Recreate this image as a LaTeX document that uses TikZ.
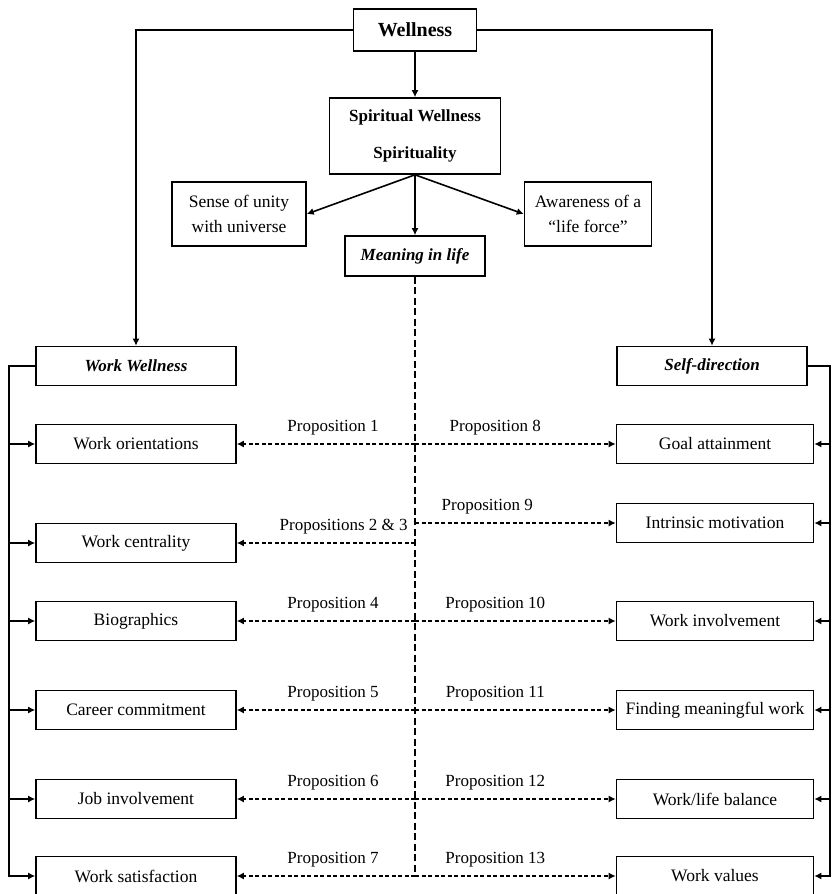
\documentclass[tikz,border=0pt]{standalone}
\usepackage{fontspec}
\setmainfont{Liberation Serif}
\usetikzlibrary{arrows.meta,positioning,calc}

\begin{document}
\begin{tikzpicture}[
    x=1pt,y=-1pt,
    every node/.style={draw,line width=1.6pt,inner sep=2pt,font=\fontsize{17.5}{25}\selectfont},
    leftbox/.style={minimum width=200pt,minimum height=39pt},
    rightbox/.style={minimum width=197pt,minimum height=39pt},
    prop/.style={draw=none,font=\fontsize{17}{20}\selectfont,above=6pt},
    solidarr/.style={-{Latex[length=7pt,width=7pt]},line width=1.6pt},
    dasharr/.style={-{Latex[length=7pt,width=7pt]},line width=1.7pt,dash pattern=on 4pt off 2.5pt},
    spine/.style={line width=1.4pt,dash pattern=on 7pt off 3.5pt}
]
\useasboundingbox (0,0) rectangle (831,894);

% Top of the hierarchy
\node[minimum width=123pt,minimum height=42pt,font=\fontsize{20}{24}\selectfont\bfseries] (wellness) at (415,30) {Wellness};
\node[minimum width=171pt,minimum height=76pt,align=center,font=\fontsize{17}{20}\selectfont\bfseries] (spirit) at (415,136) {Spiritual Wellness\\[17pt]Spirituality};

% Spirituality facets
\node[minimum width=134pt,minimum height=64pt,align=center] (unity) at (239,214) {Sense of unity\\with universe};
\node[minimum width=127pt,minimum height=64pt,align=center] (aware) at (588,214) {Awareness of a\\``life force''};
\node[minimum width=140pt,minimum height=40pt,font=\fontsize{17}{20}\selectfont\bfseries\itshape] (meaning) at (415,256) {Meaning in life};

% Work wellness side
\node[leftbox,font=\fontsize{17}{20}\selectfont\bfseries\itshape] (workw) at (136,366) {Work Wellness};
\node[leftbox] (worient) at (136,444) {Work orientations};
\node[leftbox] (wcentral) at (136,543) {Work centrality};
\node[leftbox] (biog) at (136,621) {Biographics};
\node[leftbox] (career) at (136,710) {Career commitment};
\node[leftbox] (jobinv) at (136,799) {Job involvement};
\node[leftbox] (wsat) at (136,876) {Work satisfaction};

% Self-direction side
\node[minimum width=190pt,minimum height=39pt,font=\fontsize{17}{20}\selectfont\bfseries\itshape] (selfd) at (712,366) {Self-direction};
\node[rightbox] (goal) at (715,444) {Goal attainment};
\node[rightbox] (intrinsic) at (715,523) {Intrinsic motivation};
\node[rightbox] (workinv) at (715,621) {Work involvement};
\node[rightbox] (meaningful) at (715,710) {Finding meaningful work};
\node[rightbox] (balance) at (715,799) {Work/life balance};
\node[rightbox] (values) at (715,876) {Work values};

% Connections from the top
\draw[solidarr] (wellness.west) -| (workw.north);
\draw[solidarr] (wellness.east) -| (selfd.north);
\draw[solidarr] (wellness) -- (spirit);
\draw[solidarr] (spirit.south) -- (unity.east);
\draw[solidarr] (spirit.south) -- (meaning);
\draw[solidarr] (spirit.south) -- (aware.west);

% Left bus
\draw[solidarr] (workw.west) -- ++(-26,0) |- (worient.west);
\draw[solidarr] (workw.west) -- ++(-26,0) |- (wcentral.west);
\draw[solidarr] (workw.west) -- ++(-26,0) |- (biog.west);
\draw[solidarr] (workw.west) -- ++(-26,0) |- (career.west);
\draw[solidarr] (workw.west) -- ++(-26,0) |- (jobinv.west);
\draw[solidarr] (workw.west) -- ++(-26,0) |- (wsat.west);

% Right bus
\draw[solidarr] (selfd.east) -- ++(22,0) |- (goal.east);
\draw[solidarr] (selfd.east) -- ++(22,0) |- (intrinsic.east);
\draw[solidarr] (selfd.east) -- ++(22,0) |- (workinv.east);
\draw[solidarr] (selfd.east) -- ++(22,0) |- (meaningful.east);
\draw[solidarr] (selfd.east) -- ++(22,0) |- (balance.east);
\draw[solidarr] (selfd.east) -- ++(22,0) |- (values.east);

% Meaning in life spine
\draw[spine] (meaning.south) -- (meaning.south |- wsat);

% Propositions
\draw[dasharr] (meaning.south |- worient) -- node[prop,pos=0.46] {Proposition 1} (worient.east);
\draw[dasharr] (meaning.south |- goal) -- node[prop,pos=0.4] {Proposition 8} (goal.west);
\draw[dasharr] (meaning.south |- wcentral) -- node[prop,pos=0.4] {Propositions 2 \& 3} (wcentral.east);
\draw[dasharr] (meaning.south |- intrinsic) -- node[prop,pos=0.36] {Proposition 9} (intrinsic.west);
\draw[dasharr] (meaning.south |- biog) -- node[prop,pos=0.46] {Proposition 4} (biog.east);
\draw[dasharr] (meaning.south |- workinv) -- node[prop,pos=0.4] {Proposition 10} (workinv.west);
\draw[dasharr] (meaning.south |- career) -- node[prop,pos=0.46] {Proposition 5} (career.east);
\draw[dasharr] (meaning.south |- meaningful) -- node[prop,pos=0.4] {Proposition 11} (meaningful.west);
\draw[dasharr] (meaning.south |- jobinv) -- node[prop,pos=0.46] {Proposition 6} (jobinv.east);
\draw[dasharr] (meaning.south |- balance) -- node[prop,pos=0.4] {Proposition 12} (balance.west);
\draw[dasharr] (meaning.south |- wsat) -- node[prop,pos=0.46] {Proposition 7} (wsat.east);
\draw[dasharr] (meaning.south |- values) -- node[prop,pos=0.4] {Proposition 13} (values.west);

\end{tikzpicture}
\end{document}
